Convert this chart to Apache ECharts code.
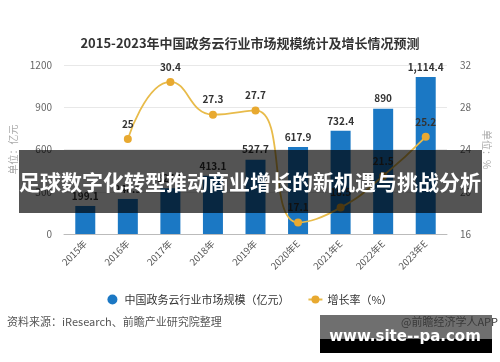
<!DOCTYPE html>
<html><head><meta charset="utf-8">
<script src="https://cdn.jsdelivr.net/npm/echarts@6/dist/echarts.min.js"></script>
<style>html,body{margin:0;padding:0;background:#fff}#c{width:500px;height:362px}</style>
</head><body><div id="c"></div>
<script>
var categories = ['2015年','2016年','2017年','2018年','2019年','2020年E','2021年E','2022年E','2023年E'];
var marketSize = [199.1, 248.9, 324.5, 413.1, 527.7, 617.9, 732.4, 890, 1114.4];
var marketLabels = ['199.1','248.9','324.5','413.1','527.7','617.9','732.4','890','1,114.4'];
var growthRate = [null, 25, 30.4, 27.3, 27.7, 17.1, 18.5, 21.5, 25.2];
var leftTicks = {min: 0, max: 1200, interval: 300};
var rightTicks = {min: 16, max: 32, interval: 4};
var titleText = '2015-2023年中国政务云行业市场规模统计及增长情况预测';
var bannerText = '足球数字化转型推动商业增长的新机遇与挑战分析';
var sourceText = '资料来源：iResearch、前瞻产业研究院整理';
var creditText = '@前瞻经济学人APP';
var siteText = 'www.site--pa.com';

var chart = echarts.init(document.getElementById('c'), null, {renderer: 'canvas'});
var font = '"Noto Sans CJK SC", "Noto Sans", sans-serif';
chart.setOption({
  backgroundColor: '#fff',
  textStyle: {fontFamily: font},
  animation: false,
  title: {
    text: titleText, left: 'center', top: 32,
    textStyle: {fontSize: 13, fontWeight: 'bold', color: '#333', fontFamily: font}
  },
  legend: {
    top: 289, left: 'center',
    itemGap: 18, itemWidth: 14, itemHeight: 10,
    textStyle: {fontSize: 11, color: '#333', fontFamily: font},
    data: [
      {name: '中国政务云行业市场规模（亿元）', icon: 'circle'},
      {name: '增长率（%）'}
    ]
  },
  grid: {left: 62, right: 50, top: 65, bottom: 128},
  xAxis: {
    type: 'category', data: categories,
    axisLine: {lineStyle: {color: '#bbb'}},
    axisTick: {alignWithLabel: true, lineStyle: {color: '#bbb'}},
    axisLabel: {rotate: 45, fontSize: 9.5, color: '#555', margin: 8}
  },
  yAxis: [
    {
      type: 'value', min: leftTicks.min, max: leftTicks.max, interval: leftTicks.interval,
      name: '单位：亿元', nameLocation: 'middle', nameGap: 46, nameRotate: 90,
      nameTextStyle: {color: '#aaa', fontSize: 10},
      axisLine: {show: false}, axisTick: {show: false},
      axisLabel: {fontSize: 10, color: '#666', margin: 12, formatter: function (v) { return String(v); }},
      splitLine: {lineStyle: {color: '#e8e8e8'}}
    },
    {
      type: 'value', min: rightTicks.min, max: rightTicks.max, interval: rightTicks.interval,
      name: '单位：%', nameLocation: 'middle', nameGap: 34, nameRotate: -90,
      nameTextStyle: {color: '#aaa', fontSize: 10},
      axisLine: {show: false}, axisTick: {show: false},
      axisLabel: {fontSize: 10, color: '#666', margin: 13},
      splitLine: {show: false}
    }
  ],
  series: [
    {
      name: '中国政务云行业市场规模（亿元）', type: 'bar', yAxisIndex: 0,
      data: marketSize, barWidth: 20,
      itemStyle: {color: '#1b78c4'},
      label: {
        show: true, position: 'top', fontSize: 10, fontWeight: 'bold', color: '#333',
        formatter: function (p) { return marketLabels[p.dataIndex]; }
      }
    },
    {
      name: '增长率（%）', type: 'line', yAxisIndex: 1,
      data: growthRate, smooth: true, connectNulls: false,
      symbol: 'circle', symbolSize: 8,
      lineStyle: {color: '#e8bb4a', width: 1.8},
      itemStyle: {color: '#e8a930'},
      label: {show: true, position: 'top', fontSize: 10, fontWeight: 'bold', color: '#333', distance: 6}
    }
  ],
  graphic: [
    {type: 'rect', shape: {x: 19, y: 150, width: 463, height: 63}, style: {fill: 'rgba(0,0,0,0.67)'}, z: 100},
    {type: 'text', x: 250, y: 182, z: 101, style: {text: bannerText, fill: '#fff', font: 'bold 21px ' + font, textAlign: 'center', textVerticalAlign: 'middle'}},
    {type: 'text', x: 7, y: 322, z: 10, style: {text: sourceText, fill: '#555', font: '11px ' + font, textVerticalAlign: 'middle'}},
    {type: 'rect', shape: {x: 320, y: 315, width: 172, height: 24}, style: {fill: '#6f6f6f'}, z: 100},
    {type: 'rect', shape: {x: 320, y: 339, width: 172, height: 14}, style: {fill: '#000'}, z: 100},
    {type: 'text', x: 498, y: 322, z: 101, style: {text: creditText, fill: '#3a3a3a', font: '11px ' + font, textAlign: 'right', textVerticalAlign: 'middle'}},
    {type: 'text', x: 405, y: 337, z: 102, style: {text: siteText, fill: '#fff', font: 'bold 15px "DejaVu Sans", sans-serif', textAlign: 'center', textVerticalAlign: 'middle'}}
  ]
});
</script>
</body></html>
